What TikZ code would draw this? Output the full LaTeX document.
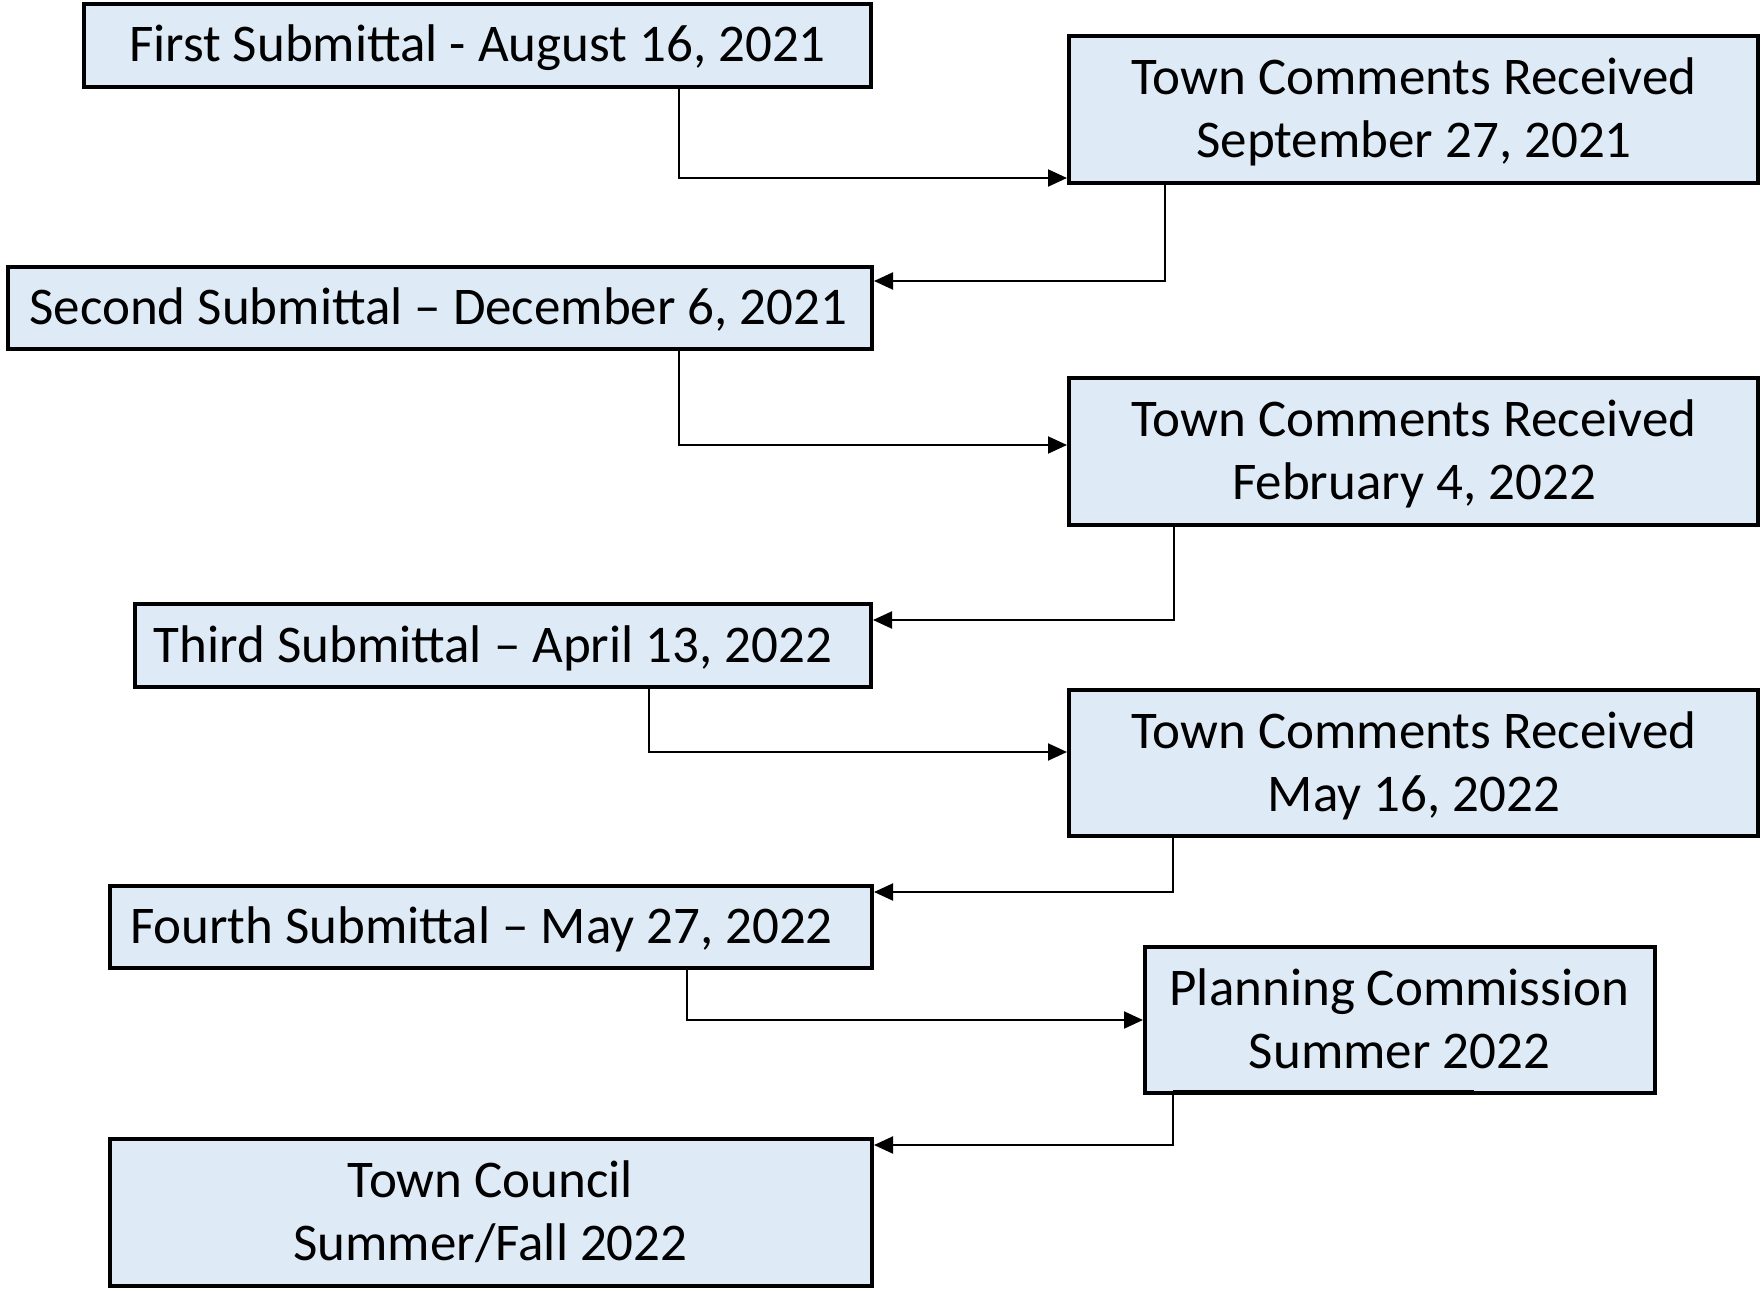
\documentclass[tikz,border=0pt]{standalone}
\usepackage{fontspec}
\setmainfont{Carlito}
\usetikzlibrary{arrows.meta}
\definecolor{boxfill}{RGB}{222,235,247}
\begin{document}
\begin{tikzpicture}[x=1pt,y=-1pt,
  box/.style={draw=black, line width=4pt, fill=boxfill, rectangle, inner sep=0pt},
  txt/.style={inner sep=0pt, anchor=base, font=\fontsize{53}{63}\selectfont},
  conn/.style={draw=black, line width=2pt, -{Triangle[length=19pt,width=17pt]}}]
\useasboundingbox (0,0) rectangle (1761,1290);

% boxes
\node[box, minimum width=787pt, minimum height=83pt]  (b1) at (477.5,45.5) {};
\node[box, minimum width=689pt, minimum height=147pt] (b2) at (1413.5,109.5) {};
\node[box, minimum width=864pt, minimum height=82pt]  (b3) at (440,308) {};
\node[box, minimum width=689pt, minimum height=147pt] (b4) at (1413.5,451.5) {};
\node[box, minimum width=736pt, minimum height=83pt]  (b5) at (503,645.5) {};
\node[box, minimum width=689pt, minimum height=146pt] (b6) at (1413.5,763) {};
\node[box, minimum width=762pt, minimum height=82pt]  (b7) at (491,927) {};
\node[box, minimum width=510pt, minimum height=146pt] (b8) at (1400,1020) {};
\node[box, minimum width=762pt, minimum height=147pt] (b9) at (491,1212.5) {};

% texts
\node[txt] (t1)  at (477.5,62) {First Submittal - August 16, 2021};
\node[txt] (t2a) at (1414,94.5) {Town Comments Received};
\node[txt] (t2b) at (1414,157.5) {September 27, 2021};
\node[txt] (t3)  at (438.5,324.5) {Second Submittal – December 6, 2021};
\node[txt] (t4a) at (1414,436.5) {Town Comments Received};
\node[txt] (t4b) at (1414,499.5) {February 4, 2022};
\node[txt] (t5)  at (493,662) {Third Submittal – April 13, 2022};
\node[txt] (t6a) at (1414,748) {Town Comments Received};
\node[txt] (t6b) at (1414,811) {May 16, 2022};
\node[txt] (t7)  at (481.5,943.5) {Fourth Submittal – May 27, 2022};
\node[txt] (t8a) at (1399.5,1005) {Planning Commission};
\node[txt] (t8b) at (1399.5,1068) {Summer 2022};
\node[txt] (t9a) at (490.5,1197.5) {Town Council};
\node[txt] (t9b) at (490.5,1260.5) {Summer/Fall 2022};

% stray thick segment on bottom edge of Planning Commission box
\draw[line width=4pt] ([xshift=-227pt,yshift=3pt]b8.south) -- ([xshift=74pt,yshift=3pt]b8.south);

% connectors
\draw[conn] ([xshift=201.5pt]b1.south) |- ([yshift=-68.5pt]b2.west);
\draw[conn] ([xshift=-248.5pt]b2.south) |- ([yshift=27pt]b3.east);
\draw[conn] ([xshift=239pt]b3.south) |- ([yshift=6.5pt]b4.west);
\draw[conn] ([xshift=-239.5pt]b4.south) |- ([yshift=25.5pt]b5.east);
\draw[conn] ([xshift=146pt]b5.south) |- ([yshift=11pt]b6.west);
\draw[conn] ([xshift=-240.5pt]b6.south) |- ([yshift=35pt]b7.east);
\draw[conn] ([xshift=196pt]b7.south) |- (b8.west);
\draw[conn] ([xshift=-227pt]b8.south) |- ([yshift=67.5pt]b9.east);
\end{tikzpicture}
\end{document}
